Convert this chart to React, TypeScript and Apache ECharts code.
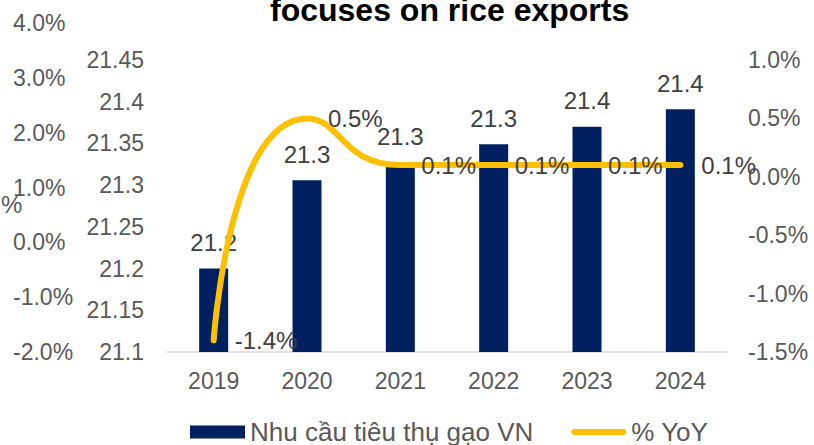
import React, { useEffect, useRef } from 'react';
import * as echarts from 'echarts';

const titleText = 'focuses on rice exports';
const categories = ['2019', '2020', '2021', '2022', '2023', '2024'];
const barName = 'Nhu cầu tiêu thụ gạo VN';
const lineName = '% YoY';
const demand = [21.2, 21.306, 21.327, 21.349, 21.37, 21.391];
const yoy = [-1.4, 0.5, 0.1, 0.1, 0.1, 0.1];
const leftTicks = { min: 21.1, max: 21.45, interval: 0.05 };
const rightTicks = { min: -1.5, max: 1.0, interval: 0.5 };
const outerTicks = { min: -2, max: 4, interval: 1 };

const FONT = '"Liberation Sans", Arial, sans-serif';
const AXIS_GRAY = '#595959';
const LABEL_DARK = '#404040';
const NAVY = '#002060';
const GOLD = '#FFC000';

export default function App() {
  const ref = useRef<HTMLDivElement>(null);
  useEffect(() => {
    if (!ref.current) return;
    const chart = echarts.init(ref.current, undefined, { renderer: 'svg' });
    const option: any = {
      animation: false,
      textStyle: { fontFamily: FONT },
      title: {
        text: titleText,
        left: 270,
        top: -6,
        padding: 0,
        textStyle: { fontSize: 32, fontWeight: 'bold', color: '#000', fontFamily: FONT },
      },
      graphic: [
        {
          type: 'text',
          left: 1,
          top: 192,
          style: { text: '%', fontSize: 24, fill: AXIS_GRAY, fontFamily: FONT },
        },
      ],
      legend: {
        left: 190,
        top: 419,
        padding: 0,
        itemGap: 38,
        itemWidth: 55,
        itemHeight: 13,
        textStyle: { fontSize: 26, color: AXIS_GRAY, fontFamily: FONT },
        data: [
          { name: barName, icon: 'rect' },
          { name: lineName, icon: 'path://M3,0H52A3,3 0 0 1 52,6H3A3,3 0 0 1 3,0Z' },
        ],
      },
      grid: [
        { left: 167, right: 87, top: 60, bottom: 93 },
        { left: 167, right: 87, top: 23, bottom: 93 },
      ],
      xAxis: [
        {
          type: 'category',
          gridIndex: 0,
          data: categories,
          axisLine: { onZero: false, lineStyle: { color: '#D9D9D9', width: 1.5 } },
          axisTick: { show: false },
          axisLabel: { fontSize: 23, color: AXIS_GRAY, margin: 17, fontFamily: FONT },
        },
        { type: 'category', gridIndex: 1, data: categories, show: false },
      ],
      yAxis: [
        {
          type: 'value',
          gridIndex: 0,
          position: 'left',
          min: leftTicks.min,
          max: leftTicks.max,
          interval: leftTicks.interval,
          splitLine: { show: false },
          axisLine: { show: false },
          axisTick: { show: false },
          axisLabel: {
            fontSize: 23,
            color: AXIS_GRAY,
            margin: 23,
            fontFamily: FONT,
            formatter: (v: number) => String(parseFloat(v.toFixed(2))),
          },
        },
        {
          type: 'value',
          gridIndex: 0,
          position: 'right',
          min: rightTicks.min,
          max: rightTicks.max,
          interval: rightTicks.interval,
          splitLine: { show: false },
          axisLine: { show: false },
          axisTick: { show: false },
          axisLabel: {
            fontSize: 23,
            color: AXIS_GRAY,
            margin: 21,
            fontFamily: FONT,
            formatter: (v: number) => v.toFixed(1) + '%',
          },
        },
        {
          type: 'value',
          gridIndex: 1,
          position: 'left',
          offset: 146,
          min: outerTicks.min,
          max: outerTicks.max,
          interval: outerTicks.interval,
          splitLine: { show: false },
          axisLine: { show: false },
          axisTick: { show: false },
          axisLabel: {
            fontSize: 23,
            color: AXIS_GRAY,
            margin: 8,
            align: 'left',
            fontFamily: FONT,
            formatter: (v: number) => v.toFixed(1) + '%',
          },
        },
      ],
      series: [
        {
          name: barName,
          type: 'bar',
          xAxisIndex: 0,
          yAxisIndex: 0,
          data: demand,
          barWidth: 29,
          itemStyle: { color: NAVY },
          label: {
            show: true,
            position: 'top',
            distance: 14,
            fontSize: 24,
            color: LABEL_DARK,
            fontFamily: FONT,
            formatter: (p: any) => Number(p.value).toFixed(1),
          },
        },
        {
          name: lineName,
          type: 'line',
          xAxisIndex: 0,
          yAxisIndex: 1,
          data: yoy,
          smooth: 0.6,
          symbol: 'circle',
          symbolSize: 2,
          showSymbol: true,
          z: 5,
          itemStyle: { color: GOLD },
          lineStyle: { color: GOLD, width: 6, cap: 'round', join: 'round' },
          label: {
            show: true,
            position: 'right',
            distance: 20,
            fontSize: 24,
            color: LABEL_DARK,
            fontFamily: FONT,
            formatter: (p: any) => Number(p.value).toFixed(1) + '%',
          },
        },
        {
          name: 'outer',
          type: 'line',
          xAxisIndex: 1,
          yAxisIndex: 2,
          data: [],
          silent: true,
        },
      ],
    };
    chart.setOption(option);
    return () => chart.dispose();
  }, []);
  return (
    <div
      ref={ref}
      style={{ position: 'fixed', left: 0, top: 0, width: 814, height: 445, background: '#fff' }}
    />
  );
}
